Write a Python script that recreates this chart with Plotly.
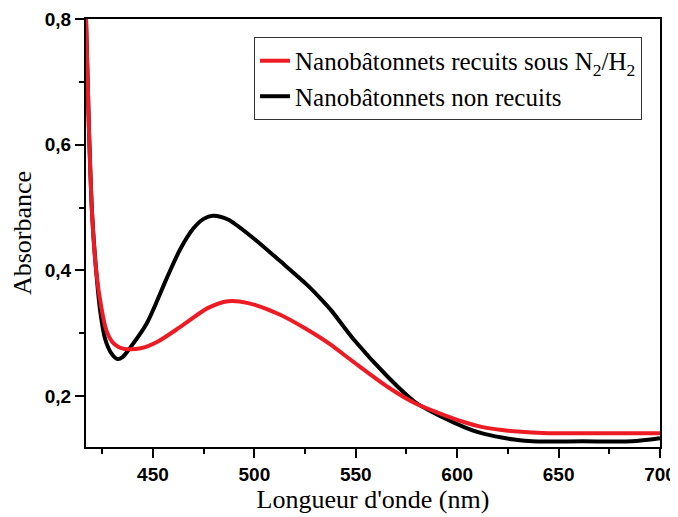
import plotly.graph_objects as go

# wavelengths (nm) and absorbance
wl_non_recuits = [417, 418.5, 420, 422, 424, 426.5, 429.5, 432.5, 435, 439, 447,
                  457, 463.5, 470, 475, 479.5, 487, 500, 513, 526, 533, 538,
                  549, 566, 579, 591, 604, 612, 622, 628, 637, 662, 686, 700]
abs_non_recuits = [0.80, 0.62, 0.49, 0.40, 0.335, 0.29, 0.268, 0.259, 0.262, 0.278, 0.316,
                   0.389, 0.434, 0.467, 0.482, 0.487, 0.481, 0.450, 0.414, 0.377, 0.354, 0.336,
                   0.290, 0.230, 0.191, 0.169, 0.150, 0.141, 0.134, 0.131, 0.128, 0.128, 0.128, 0.133]

wl_recuits = [417, 418.5, 420, 422, 424.5, 427, 430, 433, 436, 444, 452,
              463.5, 477, 487, 497, 513, 526, 533, 538, 549, 566, 579,
              591, 604, 612, 622, 628, 645, 670, 700]
abs_recuits = [0.80, 0.62, 0.49, 0.40, 0.342, 0.305, 0.286, 0.278, 0.275, 0.276, 0.286,
               0.310, 0.340, 0.351, 0.348, 0.329, 0.306, 0.292, 0.281, 0.254, 0.214, 0.189,
               0.173, 0.158, 0.151, 0.146, 0.144, 0.141, 0.141, 0.141]

serif = "Liberation Serif, Times New Roman, serif"
sans = "Liberation Sans, Arial, sans-serif"

fig = go.Figure()
# black first so that the red curve lies on top at the left edge
fig.add_trace(go.Scatter(x=wl_non_recuits, y=abs_non_recuits, mode="lines",
                         line=dict(color="black", width=4, shape="spline", smoothing=0.8),
                         name="Nanobâtonnets non recuits", legendrank=2))
fig.add_trace(go.Scatter(x=wl_recuits, y=abs_recuits, mode="lines",
                         line=dict(color="#ED1C24", width=4, shape="spline", smoothing=0.8),
                         name="Nanobâtonnets recuits sous N<sub>2</sub>/H<sub>2</sub>",
                         legendrank=1))

axis_common = dict(showline=True, linecolor="black", linewidth=2, mirror=True,
                   ticks="outside", ticklen=9, tickwidth=1.5, tickcolor="black",
                   showgrid=False, zeroline=False, automargin=False,
                   tickfont=dict(family=sans, size=19, color="black", weight="bold"))

fig.update_xaxes(range=[417, 700], tickvals=[450, 500, 550, 600, 650, 700],
                 minor=dict(tickvals=[425, 475, 525, 575, 625, 675], ticks="outside",
                            ticklen=5, tickwidth=1.5, tickcolor="black"),
                 title=dict(text="Longueur d'onde (nm)", standoff=5,
                            font=dict(family=serif, size=26, color="black")),
                 **axis_common)
fig.update_yaxes(range=[0.119, 0.8], tickvals=[0.2, 0.4, 0.6, 0.8], tickformat=".1f",
                 minor=dict(tickvals=[0.3, 0.5, 0.7], ticks="outside",
                            ticklen=5, tickwidth=1.5, tickcolor="black"),
                 title=dict(text="Absorbance", standoff=7,
                            font=dict(family=serif, size=26, color="black")),
                 **axis_common)

# page body adds an 8px margin, so the figure is 8px smaller than the window
fig.update_layout(
    width=670, height=509,
    margin=dict(l=78, r=18, t=11, b=70),
    paper_bgcolor="white", plot_bgcolor="white",
    separators=", ",
    legend=dict(x=0.9686, xanchor="right", y=0.958, yanchor="top",
                bordercolor="#333", borderwidth=1, bgcolor="white",
                font=dict(family=serif, size=25, color="black")),
)

fig.write_html("out.html")
